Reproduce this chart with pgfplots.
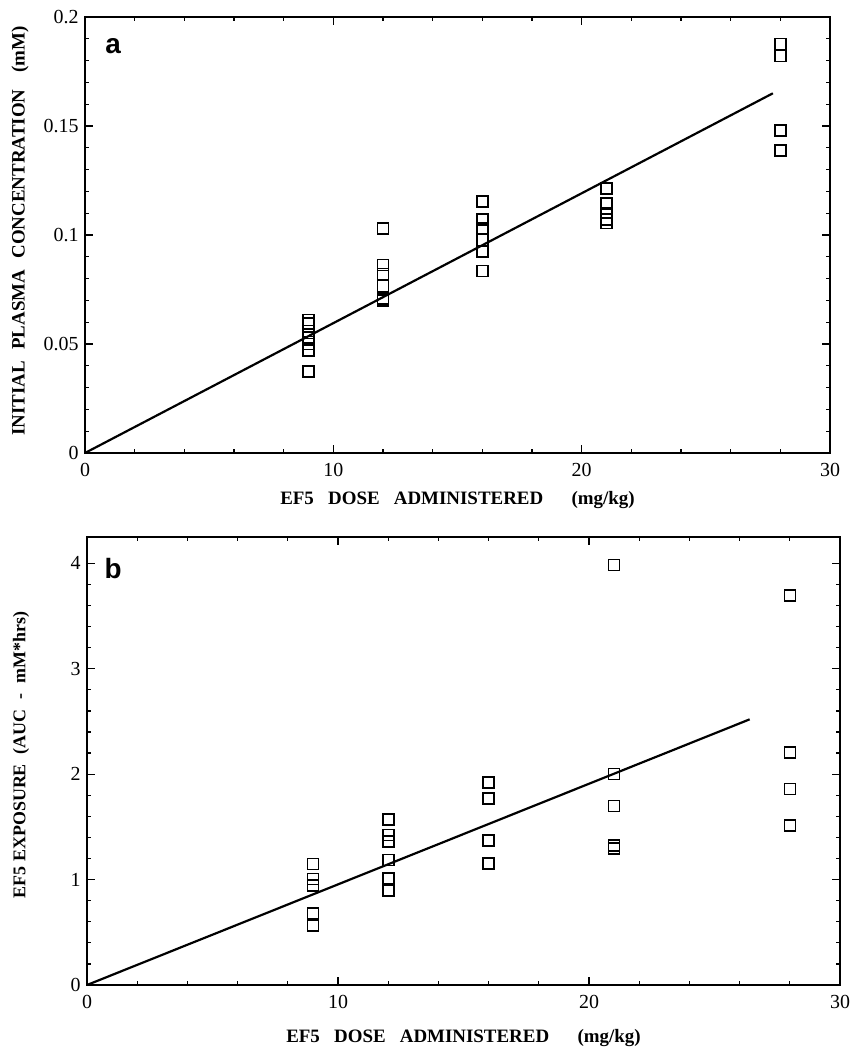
\documentclass[border=0pt]{standalone}
\usepackage{fontspec}
\setmainfont{Liberation Serif}
\newfontfamily\hel{Liberation Sans}
\usepackage{pgfplots}
\pgfplotsset{compat=1.18}
\pgfplotsset{myax/.style={
  scale only axis, xmin=0, xmax=30, xtick={0,10,20,30}, minor x tick num=4,
  tick align=inside, major tick length=8bp, minor tick length=4bp,
  axis line style={line width=1.8pt},
  every tick/.style={black, line width=1.3pt},
  tick label style={font=\fontsize{20}{20}\selectfont},
  /pgf/number format/assume math mode=true,
  xticklabel style={yshift=-7bp},
  yticklabel style={xshift=-3bp},
  clip=false,
}}
\begin{document}
\begin{tikzpicture}
\useasboundingbox (0,0) rectangle (866bp,1050bp);
\begin{axis}[myax, at={(85bp,597bp)}, anchor=south west, width=745bp, height=436bp,
  ymin=0, ymax=0.2, ytick={0,0.05,0.1,0.15,0.2}, yticklabels={0,0.05,0.1,0.15,0.2},
  minor y tick num=4,
  xlabel={EF5\hspace{0.75em}DOSE\hspace{0.75em}ADMINISTERED\hspace{1.5em}(mg/kg)},
  ylabel={INITIAL\hspace{0.6em}PLASMA\hspace{0.6em}CONCENTRATION\hspace{0.9em}(mM)},
  every axis x label/.style={at={(axis description cs:0.5,0)}, anchor=center, yshift=-47bp, font=\fontsize{19}{19}\selectfont\bfseries},
  every axis y label/.style={at={(axis description cs:0,0.5)}, rotate=90, anchor=center, yshift=65bp, xshift=4bp, font=\fontsize{19}{19}\selectfont\bfseries},
]
\addplot[black, line width=2.2pt] coordinates {(0,0) (27.7,0.165)};
\addplot[only marks, mark=square, mark size=5.5bp, mark options={line width=1.6pt, black}] coordinates {
(9,0.0610) (9,0.0595) (9,0.0560) (9,0.0530) (9,0.0500) (9,0.0470) (9,0.0375)
(12,0.1029) (12,0.0862) (12,0.0821) (12,0.0766) (12,0.0710) (12,0.0700)
(16,0.1153) (16,0.1072) (16,0.1031) (16,0.0977) (16,0.0923) (16,0.0835)
(21,0.1214) (21,0.1145) (21,0.1100) (21,0.1070) (21,0.1055)
(28,0.1877) (28,0.1821) (28,0.1479) (28,0.1388)
};
\node[font=\hel\bfseries\fontsize{28}{28}\selectfont] at (axis cs:1.13,0.1867) {a};
\end{axis}
\begin{axis}[myax, at={(87bp,65bp)}, anchor=south west, width=753bp, height=448bp,
  ymin=0, ymax=4.25, ytick={0,1,2,3,4}, minor y tick num=4,
  xlabel={EF5\hspace{0.75em}DOSE\hspace{0.75em}ADMINISTERED\hspace{1.5em}(mg/kg)},
  ylabel={EF5 EXPOSURE\hspace{0.55em}(AUC\hspace{0.55em}-\hspace{0.55em}mM*hrs)},
  every axis x label/.style={at={(axis description cs:0.5,0)}, anchor=center, yshift=-53bp, font=\fontsize{19}{19}\selectfont\bfseries},
  every axis y label/.style={at={(axis description cs:0,0.5)}, rotate=90, anchor=center, yshift=66bp, xshift=6bp, font=\fontsize{18}{18}\selectfont\bfseries},
]
\addplot[black, line width=2.2pt] coordinates {(0,0) (26.4,2.52)};
\addplot[only marks, mark=square, mark size=5.5bp, mark options={line width=1.6pt, black}] coordinates {
(9,1.148) (9,1.006) (9,0.942) (9,0.680) (9,0.566)
(12,1.572) (12,1.423) (12,1.363) (12,1.186) (12,1.009) (12,0.895)
(16,1.920) (16,1.770) (16,1.369) (16,1.151)
(21,3.985) (21,2.000) (21,1.698) (21,1.325) (21,1.297)
(28,3.694) (28,2.204) (28,1.860) (28,1.511)
};
\node[font=\hel\bfseries\fontsize{28}{28}\selectfont] at (axis cs:1.04,3.95) {b};
\end{axis}
\end{tikzpicture}
\end{document}
